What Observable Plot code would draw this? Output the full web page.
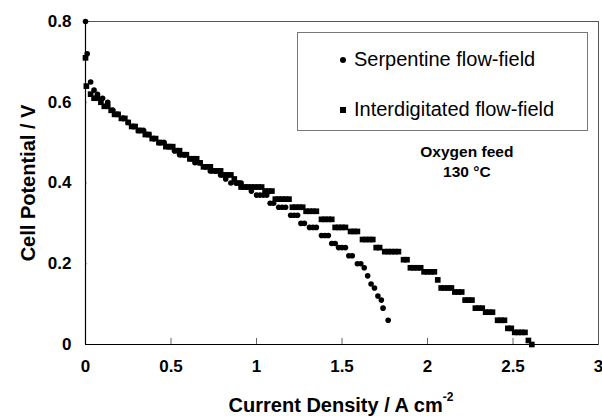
<!DOCTYPE html>
<html><head><meta charset="utf-8">
<script src="https://cdn.jsdelivr.net/npm/d3@7"></script>
<script src="https://cdn.jsdelivr.net/npm/@observablehq/plot@0.6"></script>
<style>
body{margin:0;background:#fff;font-family:"Liberation Sans",Arial,sans-serif;}
#wrap{position:relative;width:602px;height:416px;overflow:hidden;}
#wrap svg{display:block;}
.legend{position:absolute;left:297px;top:32px;width:291px;height:99px;border:1px solid #777;background:#fff;box-sizing:border-box;}
.li{position:absolute;left:44px;font-size:20px;color:#000;line-height:20px;}
.mk{position:absolute;background:#000;}
.xlab{position:absolute;left:0;width:602px;top:393px;text-align:center;font-weight:bold;font-size:20px;padding-left:80px;box-sizing:border-box;}
.xlab sup{font-size:12px;position:relative;top:-3px;}
.ylab{position:absolute;left:28px;top:183px;transform:translate(-50%,-50%) rotate(-90deg);white-space:nowrap;font-weight:bold;font-size:20px;}
</style></head><body><div id="wrap"></div>
<script>
// Serpentine flow-field: current density (A cm-2) and cell potential (V)
const serpJ = [0,0.01,0.03,0.05,0.07,0.10,0.13,0.16,0.19,0.22,0.25,0.28,0.31,0.34,0.37,0.40,0.43,0.46,0.49,0.52,0.55,0.58,0.61,0.64,0.67,0.70,0.73,0.76,0.79,0.82,0.85,0.88,0.91,0.94,0.97,1.00,1.02,1.04,1.06,1.08,1.10,1.13,1.15,1.17,1.20,1.22,1.24,1.26,1.28,1.31,1.33,1.35,1.38,1.40,1.42,1.44,1.46,1.48,1.50,1.52,1.54,1.56,1.59,1.61,1.63,1.65,1.67,1.69,1.71,1.73,1.74,1.77];
const serpV = [0.80,0.72,0.65,0.63,0.62,0.61,0.60,0.58,0.57,0.56,0.55,0.54,0.53,0.53,0.52,0.51,0.50,0.50,0.49,0.48,0.47,0.47,0.46,0.45,0.45,0.44,0.43,0.43,0.42,0.41,0.40,0.40,0.40,0.39,0.38,0.37,0.37,0.37,0.37,0.35,0.35,0.34,0.34,0.34,0.32,0.32,0.32,0.30,0.30,0.29,0.29,0.29,0.27,0.27,0.27,0.25,0.25,0.24,0.24,0.24,0.22,0.22,0.20,0.20,0.19,0.17,0.15,0.14,0.12,0.11,0.09,0.06];
// Interdigitated flow-field
const interJ = [0,0.005,0.03,0.05,0.07,0.09,0.11,0.13,0.15,0.17,0.19,0.21,0.23,0.25,0.27,0.29,0.31,0.33,0.35,0.37,0.39,0.41,0.43,0.45,0.47,0.49,0.51,0.53,0.55,0.57,0.59,0.61,0.63,0.65,0.67,0.69,0.71,0.73,0.75,0.77,0.79,0.81,0.83,0.85,0.87,0.89,0.91,0.93,0.95,0.97,0.99,1.01,1.03,1.05,1.07,1.09,1.11,1.13,1.15,1.17,1.19,1.21,1.23,1.25,1.27,1.29,1.31,1.33,1.35,1.38,1.40,1.42,1.44,1.46,1.48,1.50,1.52,1.55,1.57,1.59,1.62,1.64,1.66,1.68,1.70,1.72,1.75,1.77,1.79,1.81,1.83,1.86,1.88,1.90,1.92,1.94,1.96,1.98,2.00,2.02,2.04,2.06,2.08,2.10,2.12,2.14,2.16,2.18,2.20,2.22,2.24,2.26,2.28,2.30,2.32,2.34,2.36,2.38,2.41,2.43,2.45,2.47,2.49,2.51,2.53,2.55,2.57,2.59,2.61];
const interV = [0.71,0.64,0.62,0.61,0.61,0.60,0.59,0.59,0.58,0.57,0.57,0.56,0.56,0.55,0.54,0.54,0.53,0.53,0.52,0.52,0.51,0.51,0.50,0.50,0.49,0.49,0.49,0.48,0.48,0.47,0.47,0.46,0.46,0.46,0.45,0.44,0.44,0.44,0.43,0.43,0.43,0.42,0.42,0.42,0.41,0.40,0.39,0.39,0.39,0.39,0.39,0.39,0.39,0.38,0.38,0.38,0.36,0.36,0.36,0.36,0.36,0.34,0.34,0.34,0.34,0.33,0.33,0.33,0.33,0.31,0.31,0.31,0.31,0.29,0.29,0.29,0.29,0.28,0.28,0.28,0.26,0.26,0.26,0.26,0.24,0.24,0.23,0.23,0.23,0.23,0.23,0.21,0.21,0.19,0.19,0.19,0.19,0.18,0.18,0.18,0.18,0.16,0.14,0.14,0.14,0.14,0.13,0.13,0.13,0.11,0.11,0.11,0.09,0.09,0.09,0.08,0.08,0.08,0.06,0.06,0.06,0.04,0.04,0.03,0.03,0.03,0.03,0.01,0.00];
const seriesNames = ["Serpentine flow-field", "Interdigitated flow-field"];
const xTicks = [0, 0.5, 1, 1.5, 2, 2.5, 3];
const yTicks = [0, 0.2, 0.4, 0.6, 0.8];
const xTitle = "Current Density / A cm";
const xTitleSup = "-2";
const yTitle = "Cell Potential / V";
const noteLines = ["Oxygen feed", "130 °C"];
const notePos = {x: 2.23, y: 0.455};

const serp = serpJ.map((x, i) => ({x, y: serpV[i]}));
const inter = interJ.map((x, i) => ({x, y: interV[i]}));

const chart = Plot.plot({
  width: 602, height: 416,
  marginLeft: 85, marginRight: 4, marginTop: 21, marginBottom: 72,
  style: {fontFamily: "'Liberation Sans', Arial, sans-serif", background: "#fff", color: "#000", overflow: "visible"},
  x: {domain: [0, 3], label: null},
  y: {domain: [0, 0.8], label: null},
  marks: [
    Plot.frame({stroke: "#555", strokeWidth: 1}),
    Plot.axisX({ticks: xTicks, tickFormat: d => String(d), tickSize: 0, tickPadding: 15, fontSize: 17, fontWeight: "bold"}),
    Plot.axisY({ticks: yTicks, tickFormat: d => String(d), tickSize: 0, tickPadding: 14, fontSize: 17, fontWeight: "bold"}),
    Plot.ruleX(xTicks.slice(1, -1), {x: d => d, y1: 0, y2: 0.015, stroke: "#666"}),
    Plot.ruleY(yTicks.slice(1, -1), {y: d => d, x1: 0, x2: 0.012, stroke: "#999"}),
    Plot.ruleX([0], {stroke: "#000", strokeWidth: 1.2}),
    Plot.ruleY([0], {stroke: "#000", strokeWidth: 1.2}),
    Plot.dot(inter, {x: "x", y: "y", symbol: "square", r: 3.2, fill: "#000", stroke: null}),
    Plot.dot(serp, {x: "x", y: "y", symbol: "circle", r: 2.8, fill: "#000", stroke: null}),
    Plot.text([noteLines.join("\n")], {x: notePos.x, y: notePos.y, text: d => d, fontSize: 15.5, fontWeight: "bold", lineHeight: 1.3, fill: "#000"})
  ]
});

const wrap = document.getElementById("wrap");
wrap.appendChild(chart);

const leg = document.createElement("div");
leg.className = "legend";
const items = [
  {name: seriesNames[0], top: 16, radius: "50%"},
  {name: seriesNames[1], top: 66, radius: "0"}
];
items.forEach(it => {
  const m = document.createElement("div");
  m.className = "mk";
  m.style.left = "42px"; m.style.top = (it.top + 8) + "px";
  m.style.width = "6px"; m.style.height = "6px";
  m.style.borderRadius = it.radius;
  leg.appendChild(m);
  const t = document.createElement("div");
  t.className = "li";
  t.style.left = "56px"; t.style.top = it.top + "px";
  t.textContent = it.name;
  leg.appendChild(t);
});
wrap.appendChild(leg);

const xl = document.createElement("div");
xl.className = "xlab";
xl.innerHTML = xTitle + "<sup>" + xTitleSup + "</sup>";
wrap.appendChild(xl);

const yl = document.createElement("div");
yl.className = "ylab";
yl.textContent = yTitle;
wrap.appendChild(yl);
</script>
</body></html>
